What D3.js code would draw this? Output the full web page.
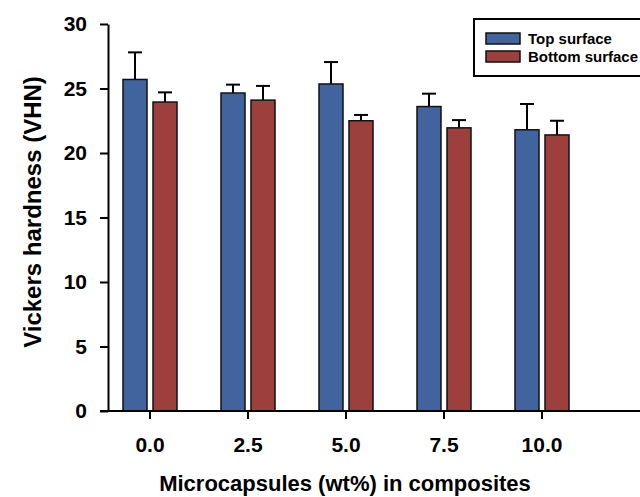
<!DOCTYPE html>
<html lang="en">
<head>
<meta charset="UTF-8"/>
<title>Vickers hardness</title>
<script src="https://d3js.org/d3.v7.min.js"></script>
<style>
	body { margin: 0; background: #fff; }
	text { font-family: "Liberation Sans", Arial, sans-serif; font-weight: bold; }
</style>
</head>
<body>
<script>
	// data
	var categories = ["0.0", "2.5", "5.0", "7.5", "10.0"];
	var series = ["Top surface", "Bottom surface"];
	var topValues = [25.7, 24.65, 25.35, 23.6, 21.8];
	var topErrors = [2.1, 0.65, 1.7, 1.0, 2.0];
	var bottomValues = [23.95, 24.1, 22.5, 21.95, 21.4];
	var bottomErrors = [0.75, 1.1, 0.45, 0.6, 1.1];
	var yTicks = [0, 5, 10, 15, 20, 25, 30];

	var w = 640, h = 497;
	var colors = ["#41649e", "#9d403d"];

	var svg = d3.select("body").append("svg")
		.attr("width", w)
		.attr("height", h);

	var xScale = d3.scaleBand()
		.domain(categories)
		.range([101, 591]);

	var inner = d3.scaleBand()
		.domain(series)
		.range([xScale.bandwidth() / 2 - 27, xScale.bandwidth() / 2 + 27])
		.paddingInner(0.2);

	var yScale = d3.scaleLinear()
		.domain([0, 30])
		.range([411, 24]);

	// build rows for each bar
	var rows = [];
	categories.forEach(function(c, i) {
		rows.push({cat: c, s: series[0], v: topValues[i], e: topErrors[i], k: 0});
		rows.push({cat: c, s: series[1], v: bottomValues[i], e: bottomErrors[i], k: 1});
	});

	// error bars (drawn first so the bar covers the lower half)
	var eb = svg.append("g").attr("stroke", "#000").attr("stroke-width", 2);
	rows.forEach(function(d) {
		var cx = xScale(d.cat) + inner(d.s) + inner.bandwidth() / 2;
		eb.append("line")
			.attr("x1", cx).attr("x2", cx)
			.attr("y1", yScale(d.v)).attr("y2", yScale(d.v + d.e));
		eb.append("line")
			.attr("x1", cx - 7).attr("x2", cx + 7)
			.attr("y1", yScale(d.v + d.e)).attr("y2", yScale(d.v + d.e));
	});

	svg.append("g").selectAll("rect")
		.data(rows)
		.enter()
		.append("rect")
		.attr("x", function(d) { return xScale(d.cat) + inner(d.s); })
		.attr("y", function(d) { return yScale(d.v); })
		.attr("width", inner.bandwidth())
		.attr("height", function(d) { return yScale(0) - yScale(d.v); })
		.attr("fill", function(d) { return colors[d.k]; })
		.attr("stroke", "#111")
		.attr("stroke-width", 1.5);

	// axes
	var xAxis = d3.axisBottom(xScale).tickSize(8).tickPadding(18).tickSizeOuter(0);
	var gx = svg.append("g")
		.attr("transform", "translate(0," + yScale(0) + ")")
		.call(xAxis);
	gx.select(".domain").attr("d", "M100,0H640");

	var yAxis = d3.axisLeft(yScale).tickValues(yTicks).tickSize(8).tickPadding(13).tickSizeOuter(0);
	var gy = svg.append("g")
		.attr("transform", "translate(108,0)")
		.call(yAxis);

	svg.selectAll(".domain").attr("stroke", "#000").attr("stroke-width", 2);
	svg.selectAll(".tick line").attr("stroke", "#000").attr("stroke-width", 2);
	svg.selectAll(".tick text")
		.attr("fill", "#000")
		.style("font-size", "21px")
		.style("font-family", "'Liberation Sans', Arial, sans-serif")
		.style("font-weight", "bold");

	// axis titles
	svg.append("text")
		.attr("x", 345)
		.attr("y", 491)
		.attr("text-anchor", "middle")
		.style("font-size", "22px")
		.text("Microcapsules (wt%) in composites");

	svg.append("text")
		.attr("transform", "translate(41,212) rotate(-90)")
		.attr("text-anchor", "middle")
		.style("font-size", "24px")
		.text("Vickers hardness (VHN)");

	// legend
	var lg = svg.append("g");
	lg.append("rect")
		.attr("x", 474).attr("y", 19)
		.attr("width", 180).attr("height", 57)
		.attr("fill", "#fff")
		.attr("stroke", "#000")
		.attr("stroke-width", 2);
	series.forEach(function(s, i) {
		lg.append("rect")
			.attr("x", 486).attr("y", 33 + i * 18)
			.attr("width", 34).attr("height", 11)
			.attr("fill", colors[i])
			.attr("stroke", "#111")
			.attr("stroke-width", 1.5);
		lg.append("text")
			.attr("x", 528).attr("y", 44 + i * 18)
			.style("font-size", "15px")
			.text(s);
	});
</script>
</body>
</html>
